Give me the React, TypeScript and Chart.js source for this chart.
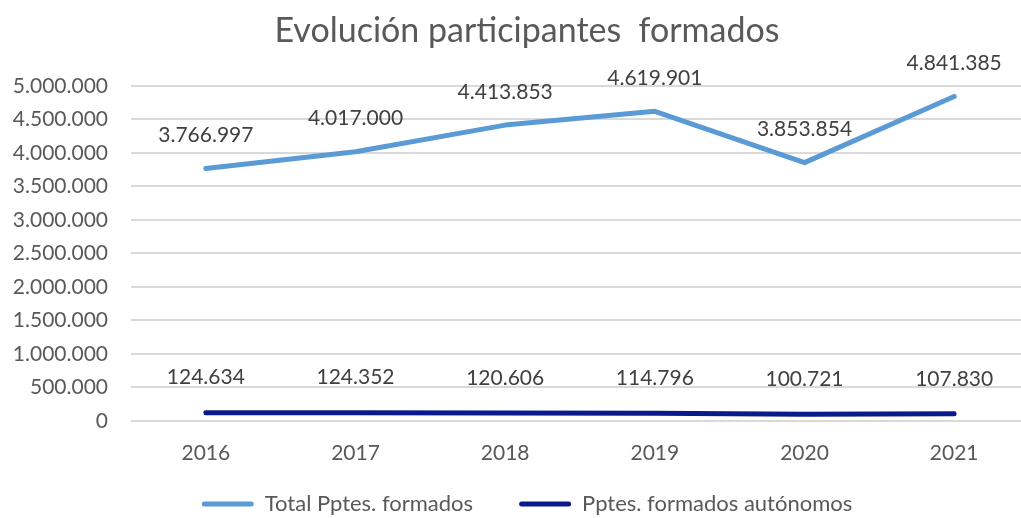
import React, { useEffect, useRef } from "react";
import { Chart, registerables } from "chart.js";

Chart.register(...registerables);

const categories = ["2016", "2017", "2018", "2019", "2020", "2021"];
const totalFormados = [3766997, 4017000, 4413853, 4619901, 3853854, 4841385];
const autonomos = [124634, 124352, 120606, 114796, 100721, 107830];
const seriesNames = ["Total Pptes. formados", "Pptes. formados autónomos"];
const titleText = "Evolución participantes  formados";
const yMax = 5000000;
const yStep = 500000;

const FONT = "Lato";

function fmt(v: number): string {
  return Math.round(v).toString().replace(/\B(?=(\d{3})+(?!\d))/g, ".");
}

const labelOffsets = [33, 35];

const dataLabelPlugin = {
  id: "dataLabels",
  afterDatasetsDraw(chart: any) {
    const ctx = chart.ctx;
    ctx.save();
    ctx.font = `21px ${FONT}`;
    ctx.fillStyle = "#404040";
    ctx.textAlign = "center";
    ctx.textBaseline = "middle";
    chart.data.datasets.forEach((ds: any, i: number) => {
      const meta = chart.getDatasetMeta(i);
      meta.data.forEach((pt: any, j: number) => {
        ctx.fillText(fmt(ds.data[j]), pt.x, pt.y - labelOffsets[i]);
      });
    });
    ctx.restore();
  },
};

// let tick labels extend beyond the (compressed) axis boxes without clipping
const unclipPlugin = {
  id: "unclipAxes",
  afterLayout(chart: any) {
    const x = chart.scales.x;
    if (x) x.bottom = chart.height;
    const y = chart.scales.y;
    if (y) y.left = 0;
  },
};

export default function App() {
  const ref = useRef<HTMLCanvasElement | null>(null);

  useEffect(() => {
    document.body.style.margin = "0";
    const canvas = ref.current!;
    const chart = new Chart(canvas, {
      type: "line",
      data: {
        labels: categories,
        datasets: [
          {
            label: seriesNames[0],
            data: totalFormados,
            borderColor: "#5B9BD5",
            backgroundColor: "#5B9BD5",
            borderWidth: 5,
            pointRadius: 0,
            borderCapStyle: "round",
            borderJoinStyle: "round",
            tension: 0,
          },
          {
            label: seriesNames[1],
            data: autonomos,
            borderColor: "#0A1A8C",
            backgroundColor: "#0A1A8C",
            borderWidth: 5,
            pointRadius: 0,
            borderCapStyle: "round",
            borderJoinStyle: "round",
            tension: 0,
          },
        ],
      },
      options: {
        animation: false,
        responsive: false,
        maintainAspectRatio: false,
        layout: { padding: { left: 25, right: 27, top: 0, bottom: -7 } },
        plugins: {
          title: {
            display: true,
            text: titleText,
            color: "#595959",
            font: { family: FONT, size: 34, weight: "normal" },
            padding: { top: 11, bottom: 34 },
          },
          legend: {
            position: "bottom",
            labels: {
              color: "#595959",
              font: { family: FONT, size: 22 },
              boxWidth: 52,
              boxHeight: 5,
              padding: 46,
              useBorderRadius: true,
              borderRadius: 2.5,
              generateLabels: (c: any) =>
                Chart.defaults.plugins.legend.labels
                  .generateLabels(c)
                  .map((l: any) => ({ ...l, lineWidth: 0 })),
            },
          },
          tooltip: { enabled: false },
        },
        scales: {
          x: {
            offset: true,
            grid: { display: false, drawTicks: false },
            border: { display: false },
            ticks: {
              color: "#595959",
              font: { family: FONT, size: 21 },
              padding: 20,
            },
            afterFit: (s: any) => {
              s.height = 26;
            },
          },
          y: {
            min: 0,
            max: yMax,
            grid: { color: "#D9D9D9", lineWidth: 2, drawTicks: false },
            border: { display: false },
            ticks: {
              stepSize: yStep,
              color: "#595959",
              font: { family: FONT, size: 21 },
              padding: 23,
              callback: (v: any) => fmt(Number(v)),
            },
            afterFit: (s: any) => {
              s.width = 106;
            },
          },
        },
      },
      plugins: [dataLabelPlugin, unclipPlugin],
    });
    return () => chart.destroy();
  }, []);

  return (
    <div
      style={{
        position: "fixed",
        left: 0,
        top: 0,
        width: 1021,
        height: 518,
        overflow: "hidden",
        background: "#fff",
      }}
    >
      <canvas ref={ref} width={1056} height={518} style={{ display: "block" }} />
    </div>
  );
}
